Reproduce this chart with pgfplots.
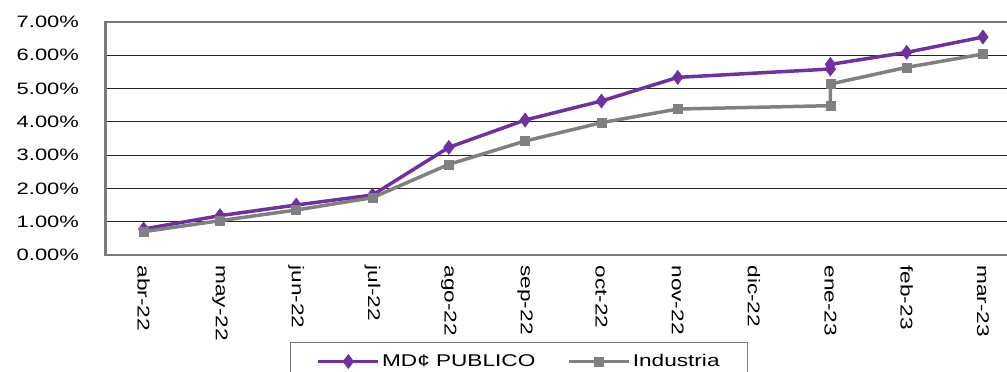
\documentclass[border=0pt]{standalone}
\usepackage{fontspec}
\setmainfont{Liberation Sans}
\newfontfamily\widefont{Liberation Sans}[FakeStretch=1.33]
\usepackage{pgfplots}
\usepackage{pgfplotstable}
\pgfplotsset{compat=1.18}

\definecolor{mdpurple}{RGB}{112,48,160}
\definecolor{indgray}{RGB}{128,128,128}
\definecolor{framegray}{RGB}{122,122,122}

% Monthly cumulative returns (%); January 2023 has two readings
\pgfplotstableread{
x y
0 0.78
1 1.18
2 1.50
3 1.80
4 3.23
5 4.05
6 4.62
7 5.33
9 5.58
9 5.72
10 6.08
11 6.54
}\mdpublico

\pgfplotstableread{
x y
0 0.70
1 1.03
2 1.35
3 1.72
4 2.72
5 3.42
6 3.97
7 4.38
9 4.48
9 5.13
10 5.63
11 6.03
}\industria

\begin{document}
\begin{tikzpicture}
\begin{axis}[
  at={(0pt,0pt)}, anchor=south west,
  scale only axis,
  width=915.6pt, height=233.3pt,
  xmin=-0.5, xmax=11.5, ymin=0, ymax=7,
  xtick={0,...,11},
  xticklabels={abr-22,may-22,jun-22,jul-22,ago-22,sep-22,oct-22,nov-22,dic-22,ene-23,feb-23,mar-23},
  ytick={0,...,7},
  yticklabels={0.00\%,1.00\%,2.00\%,3.00\%,4.00\%,5.00\%,6.00\%,7.00\%},
  tick style={draw=none},
  ymajorgrids,
  grid style={black!85, line width=1pt},
  axis line style={framegray, line width=2.2pt},
  xticklabel style={font=\fontsize{17}{19}\widefont, yshift=-7pt, rotate=-90, anchor=west},
  yticklabel style={font=\fontsize{16.5}{18}\widefont, xshift=-23pt},
  legend columns=2,
  legend style={
    at={(0.2015,-0.373)}, anchor=north west,
    draw=framegray, line width=1.2pt, fill=white,
    font=\fontsize{17}{19}\widefont,
    inner xsep=26pt, inner ysep=10pt,
    /tikz/every even column/.append style={column sep=30pt},
  },
  legend image code/.code={\draw[mark repeat=2,mark phase=2,#1] plot coordinates {(0pt,0pt) (30pt,0pt) (60pt,0pt)};},
]
\addplot[mdpurple, line width=3.5pt, mark=diamond*, mark size=7pt,
  mark options={solid, line width=0.6pt, fill=mdpurple}] table[x=x,y=y] {\mdpublico};
\addlegendentry{MD¢ PUBLICO}
\addplot[indgray, line width=3.5pt, mark=square*, mark size=4.5pt,
  mark options={solid, line width=0.6pt, fill=indgray}] table[x=x,y=y] {\industria};
\addlegendentry{Industria}
\end{axis}
\pgfresetboundingbox
\path[use as bounding box] (-105.5pt,-117pt) rectangle (901.5pt,255pt);
\end{tikzpicture}
\end{document}
